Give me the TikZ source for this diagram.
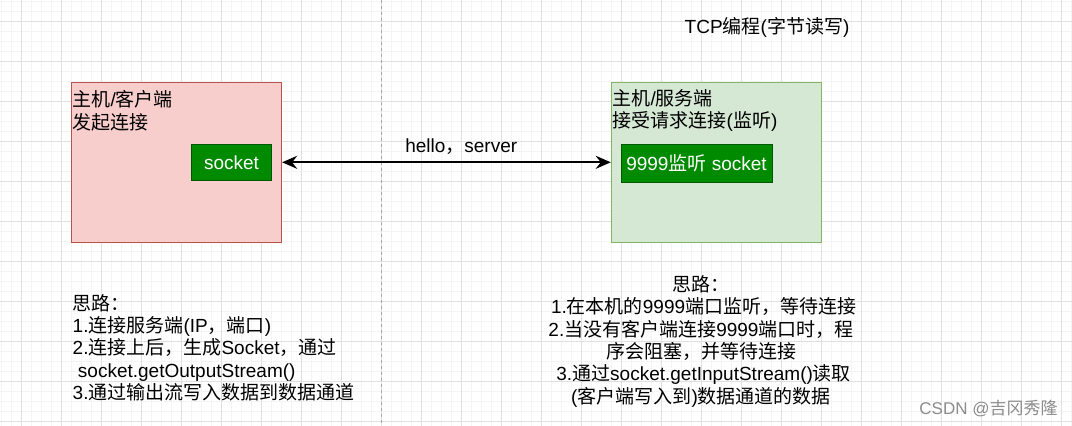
\documentclass[tikz,border=0pt]{standalone}
\usepackage{fontspec}
\setmainfont{Liberation Sans}
\newfontfamily\cjkfont{Noto Sans CJK SC}
\newcommand\latinfont{\rmfamily}
% caratteri cinesi con il loro font
\XeTeXinterchartokenstate=1
\newXeTeXintercharclass\zhclass
\newcount\zhcode
\def\zhrange#1#2{\zhcode=#1\relax
  \loop\XeTeXcharclass\zhcode=\zhclass\relax
  \ifnum\zhcode<#2\advance\zhcode by 1\relax\repeat}
\zhrange{"3000}{"303F}
\zhrange{"4E00}{"9FFF}
\zhrange{"FF00}{"FFEF}
\XeTeXinterchartoks 0 \zhclass = {\cjkfont}
\XeTeXinterchartoks 4095 \zhclass = {\cjkfont}
\XeTeXinterchartoks \zhclass 0 = {\latinfont}
\XeTeXinterchartoks \zhclass 4095 = {\latinfont}
\usepackage{tikz}
\usetikzlibrary{arrows.meta}
\definecolor{pinkfill}{HTML}{F8CECC}
\definecolor{pinkline}{HTML}{B85450}
\definecolor{greenfill}{HTML}{D5E8D4}
\definecolor{greenline}{HTML}{82B366}
\definecolor{sockfill}{HTML}{008A00}
\definecolor{sockline}{HTML}{005700}
\definecolor{gridminor}{HTML}{F4F4F4}
\definecolor{gridmajor}{HTML}{E0E0E0}
\definecolor{markgray}{HTML}{8C8C8C}

\begin{document}
\begin{tikzpicture}[x=1pt, y=-1pt,
  hostbox/.style={draw, line width=1pt, minimum width=210.5pt,
    minimum height=160pt, inner sep=0pt},
  sockbox/.style={draw=sockline, fill=sockfill, line width=1pt,
    text=white, inner sep=0pt},
  note/.style={inner sep=0pt, align=left},
  link/.style={{Stealth[length=15pt,width=13pt,inset=5pt]}-{Stealth[length=15pt,width=13pt,inset=5pt]},
    line width=2.2pt},
  every node/.style={font=\fontsize{19}{22.3}\selectfont}
]

% Sfondo a griglia
\useasboundingbox (0,0) rectangle (1072,426);
\fill[white] (0,0) rectangle (1072,426);
\foreach \gx in {1.7,11.7,...,1072} \draw[gridminor, line width=1pt] (\gx,0) -- (\gx,426);
\foreach \gy in {1.7,11.7,...,426} \draw[gridminor, line width=1pt] (0,\gy) -- (1072,\gy);
\foreach \gx in {21.7,61.7,...,1072} \draw[gridmajor, line width=1pt] (\gx,0) -- (\gx,426);
\foreach \gy in {21.7,61.7,...,426} \draw[gridmajor, line width=1pt] (0,\gy) -- (1072,\gy);

% Linea di separazione
\draw[gray!70, line width=1pt, dash pattern=on 3pt off 3pt] (381.5,0) -- (381.5,426);

% Titolo
\node[anchor=west, inner sep=0pt] (title) at (684.5,27) {TCP编程(字节读写)};

% Host
\node[hostbox, fill=pinkfill, draw=pinkline] (client) at (176.4,162.3) {};
\node[hostbox, fill=greenfill, draw=greenline] (server) at (716.5,162.3) {};
\node[note, anchor=north west] (clientlabel) at (72.5,90.5) {主机/客户端\\发起连接};
\node[note, anchor=north west] (serverlabel) at (612.5,89) {主机/服务端\\接受请求连接(监听)};

% Socket
\node[sockbox, minimum width=80.4pt, minimum height=36.5pt] (clientsock) at (231.5,162.3) {socket};
\node[sockbox, minimum width=151pt, minimum height=38.4pt] (serversock) at (696.5,163.5) {9999监听 socket};

\draw[link] (client) -- (server) node[pos=0.545, yshift=15.6pt, inner sep=0pt] (msg) {hello，server};

% Note
\node[note, anchor=north west] (clientnote) at (72.5,294) {思路：\\1.连接服务端(IP，端口)\\2.连接上后，生成Socket，通过\\~socket.getOutputStream()\\3.通过输出流写入数据到数据通道};
\node[note, align=center, anchor=north] (servernote) at (701,275.5) {思路：\\~1.在本机的9999端口监听，等待连接\\2.当没有客户端连接9999端口时，程\\序会阻塞，并等待连接\\~3.通过socket.getInputStream()读取\\(客户端写入到)数据通道的数据};

\node[text=markgray, inner sep=0pt, font=\fontsize{17}{20}\selectfont] (mark) at (988.5,408.5) {CSDN @吉冈秀隆};

\end{tikzpicture}
\end{document}
